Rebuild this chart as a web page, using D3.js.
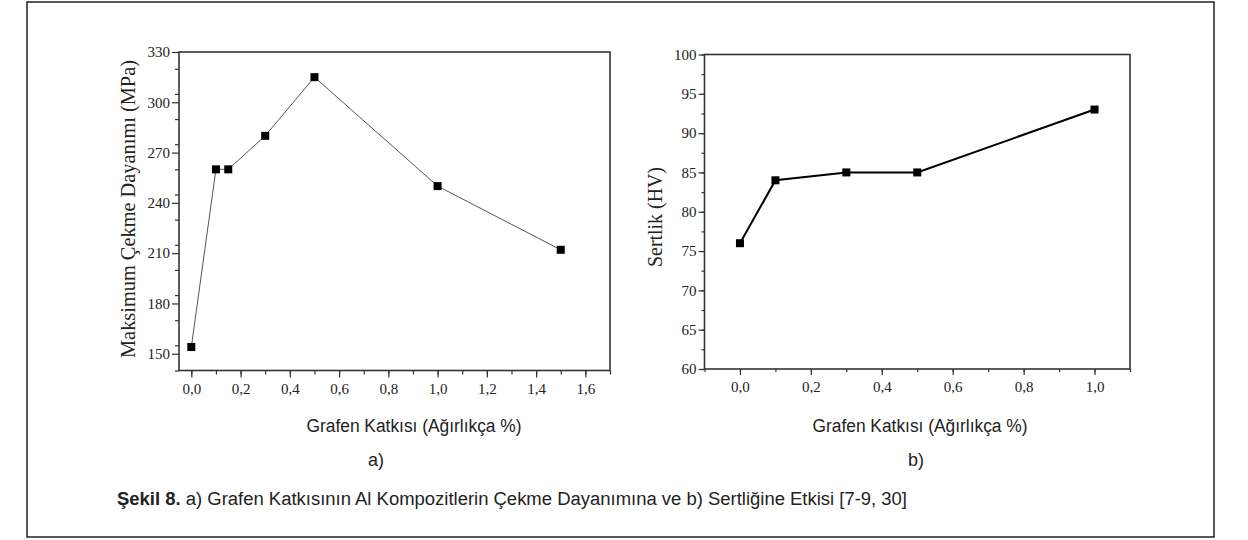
<!DOCTYPE html>
<html>
<head>
<meta charset="utf-8">
<script src="https://cdn.jsdelivr.net/npm/d3@7"></script>
<style>
  body { margin: 0; background: #fff; }
</style>
</head>
<body>
<div id="chart"></div>
<script>
// panel a: tensile strength
var xA = [0, 0.1, 0.15, 0.3, 0.5, 1.0, 1.5]
var yA = [154, 260, 260, 280, 315, 250, 212]
// panel b: hardness
var xB = [0, 0.1, 0.3, 0.5, 1.0]
var yB = [76, 84, 85, 85, 93]

var xTitle = 'Grafen Katkısı (Ağırlıkça %)'
var yTitleA = 'Maksimum Çekme Dayanımı (MPa)'
var yTitleB = 'Sertlik (HV)'
var captionBold = 'Şekil 8.'
var captionText = ' a) Grafen Katkısının Al Kompozitlerin Çekme Dayanımına ve b) Sertliğine Etkisi [7-9, 30]'

var W = 1248, H = 540
var serif = "'Liberation Serif', 'Times New Roman', serif"
var sans = "'Liberation Sans', Arial, sans-serif"
var fmt = function(d) { return d3.format('.1f')(d).replace('.', ',') }

var svg = d3.select('#chart').append('svg')
    .attr('width', W)
    .attr('height', H)

// outer frame
svg.append('rect')
    .attr('x', 27).attr('y', 2)
    .attr('width', 1187).attr('height', 535)
    .attr('fill', 'none')
    .attr('stroke', '#222')
    .attr('stroke-width', 1.5)

function makePanel(opt) {
    var x = d3.scaleLinear().domain(opt.xDomain).range([opt.left, opt.right])
    var y = d3.scaleLinear().domain(opt.yDomain).range([opt.bottom, opt.top])
    var g = svg.append('g')

    // minor ticks
    var xMinor = d3.range(opt.xMinorStart, opt.xDomain[1] + 1e-9, opt.xMinorStep)
    g.append('g')
        .attr('transform', 'translate(0,' + opt.bottom + ')')
        .call(d3.axisBottom(x).tickValues(xMinor).tickSize(opt.minorLen).tickFormat(''))
        .call(function(s) { s.select('.domain').remove() })
    var yMinor = d3.range(opt.yDomain[0], opt.yDomain[1] + 1e-9, opt.yMinorStep)
    g.append('g')
        .attr('transform', 'translate(' + opt.left + ',0)')
        .call(d3.axisLeft(y).tickValues(yMinor).tickSize(opt.minorLen).tickFormat(''))
        .call(function(s) { s.select('.domain').remove() })

    // major ticks
    var xAxis = g.append('g')
        .attr('transform', 'translate(0,' + opt.bottom + ')')
        .call(d3.axisBottom(x).tickValues(opt.xTicks).tickSize(opt.majorLen).tickPadding(6).tickFormat(fmt))
    var yAxis = g.append('g')
        .attr('transform', 'translate(' + opt.left + ',0)')
        .call(d3.axisLeft(y).tickValues(opt.yTicks).tickSize(opt.majorLen).tickPadding(2).tickFormat(d3.format('d')))
    ;[xAxis, yAxis].forEach(function(a) {
        a.select('.domain').remove()
        a.selectAll('text').style('font-family', serif).style('font-size', '15px').attr('fill', '#222')
    })
    g.selectAll('.tick line').attr('stroke', '#333').attr('stroke-width', 1.2)

    // frame
    g.append('rect')
        .attr('x', opt.left).attr('y', opt.top)
        .attr('width', opt.right - opt.left).attr('height', opt.bottom - opt.top)
        .attr('fill', 'none')
        .attr('stroke', '#333')
        .attr('stroke-width', 1.6)

    var pts = opt.xs.map(function(d, i) { return [d, opt.ys[i]] })
    g.append('path')
        .datum(pts)
        .attr('fill', 'none')
        .attr('stroke', opt.lineColor)
        .attr('stroke-width', opt.lineWidth)
        .attr('d', d3.line()
            .x(function(d) { return x(d[0]) })
            .y(function(d) { return y(d[1]) }))
    g.selectAll('myRects')
        .data(pts)
        .enter()
        .append('rect')
        .attr('x', function(d) { return x(d[0]) - 4 })
        .attr('y', function(d) { return y(d[1]) - 4 })
        .attr('width', 8).attr('height', 8)
        .attr('fill', '#000')

    // y title
    g.append('text')
        .attr('transform', 'translate(' + opt.yTitleX + ',' + opt.yTitleY + ') rotate(-90)')
        .attr('text-anchor', 'middle')
        .style('font-family', serif)
        .style('font-size', '21px')
        .attr('fill', '#222')
        .attr('textLength', opt.yTitleLen)
        .attr('lengthAdjust', 'spacingAndGlyphs')
        .text(opt.yTitle)

    // x title and panel label
    g.append('text')
        .attr('x', opt.xTitleX).attr('y', 432)
        .attr('text-anchor', 'middle')
        .style('font-family', sans)
        .style('font-size', '18px')
        .attr('fill', '#222')
        .attr('textLength', 215)
        .attr('lengthAdjust', 'spacingAndGlyphs')
        .text(xTitle)
    g.append('text')
        .attr('x', opt.labelX).attr('y', 466)
        .attr('text-anchor', 'middle')
        .style('font-family', sans)
        .style('font-size', '18px')
        .attr('fill', '#222')
        .text(opt.label)
}

makePanel({
    xs: xA, ys: yA,
    xDomain: [-0.05, 1.7], yDomain: [140, 330],
    xTicks: [0, 0.2, 0.4, 0.6, 0.8, 1.0, 1.2, 1.4, 1.6],
    yTicks: [150, 180, 210, 240, 270, 300, 330],
    xMinorStart: 0, xMinorStep: 0.1, yMinorStep: 15,
    left: 179, right: 610, top: 52, bottom: 370.5,
    majorLen: 7, minorLen: 4,
    lineColor: '#555', lineWidth: 1,
    yTitle: yTitleA, yTitleX: 135, yTitleY: 209, yTitleLen: 298,
    xTitleX: 414, labelX: 376, label: 'a)'
})

makePanel({
    xs: xB, ys: yB,
    xDomain: [-0.1, 1.1], yDomain: [60, 100],
    xTicks: [0, 0.2, 0.4, 0.6, 0.8, 1.0],
    yTicks: [60, 65, 70, 75, 80, 85, 90, 95, 100],
    xMinorStart: -0.1, xMinorStep: 0.1, yMinorStep: 2.5,
    left: 704.5, right: 1130, top: 54.5, bottom: 369,
    majorLen: 6, minorLen: 3,
    lineColor: '#000', lineWidth: 2,
    yTitle: yTitleB, yTitleX: 662, yTitleY: 217, yTitleLen: 100,
    xTitleX: 920, labelX: 916, label: 'b)'
})

// caption
var cap = svg.append('text')
    .attr('x', 117).attr('y', 505)
    .style('font-family', sans)
    .style('font-size', '18px')
    .attr('fill', '#222')
    .attr('textLength', 790)
    .attr('lengthAdjust', 'spacingAndGlyphs')
cap.append('tspan').style('font-weight', 'bold').text(captionBold)
cap.append('tspan').text(captionText)
</script>
</body>
</html>
